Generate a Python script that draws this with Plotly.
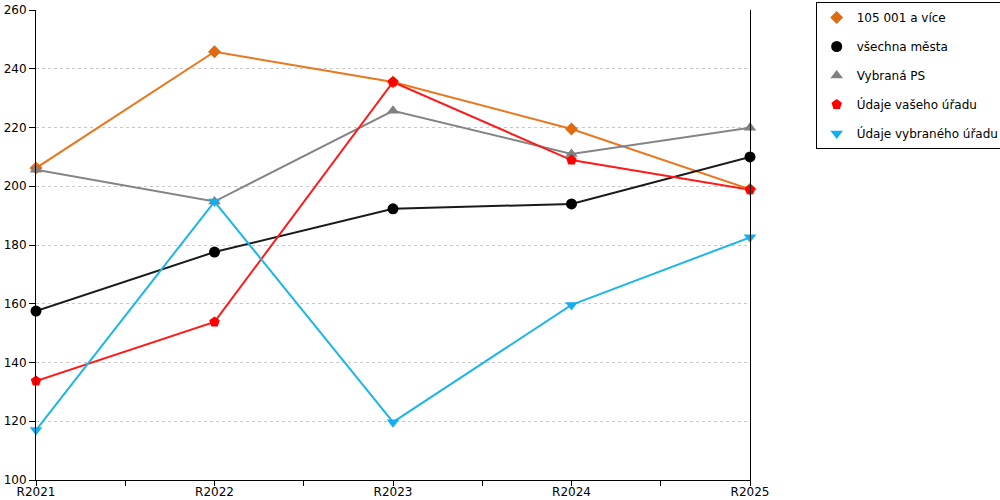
import plotly.graph_objects as go

years = ["R2021", "R2022", "R2023", "R2024", "R2025"]

names = ["105 001 a více", "všechna města", "Vybraná PS", "Údaje vašeho úřadu", "Údaje vybraného úřadu"]
city_105k = [206.2, 245.8, 235.5, 219.5, 199.0]
all_cities = [157.5, 177.6, 192.3, 194.0, 210.0]
selected_ps = [205.6, 194.8, 225.7, 211.0, 219.9]
your_office = [133.7, 153.8, 235.5, 208.9, 198.8]
other_office = [117.0, 194.8, 119.7, 159.6, 182.6]

series = [city_105k, all_cities, selected_ps, your_office, other_office]
colors = ["#E8771E", "#1a1a1a", "#848484", "#FF1A1A", "#1CB5EC"]
markers = ["diamond", "circle", "triangle-up", "pentagon", "triangle-down"]
msizes = [10, 11, 11, 11, 11]
mcolors = ["#E06A10", "#000000", "#808080", "#FF0000", "#10B0F0"]

x_pos = list(range(len(years)))

fig = go.Figure()
# lines first (no legend), then markers carrying the legend entries
for i, vals in enumerate(series):
    fig.add_trace(go.Scatter(
        x=x_pos, y=vals, mode="lines", showlegend=False, hoverinfo="skip",
        line=dict(color=colors[i], width=2), cliponaxis=False,
    ))
for i, (name, vals) in enumerate(zip(names, series)):
    fig.add_trace(go.Scatter(
        x=x_pos, y=vals, mode="markers", name=name,
        legendgroup=f"g{i}",
        marker=dict(symbol=markers[i], size=msizes[i], color=mcolors[i]),
        cliponaxis=False,
    ))

fig.update_layout(
    width=1000, height=500,
    margin=dict(l=36, r=250, t=10, b=20, autoexpand=False),
    plot_bgcolor="white", paper_bgcolor="white",
    font=dict(family="DejaVu Sans", size=12, color="#000"),
    legend=dict(
        x=1.092, y=1.017, xanchor="left", yanchor="top",
        bordercolor="#000", borderwidth=1, bgcolor="white",
        font=dict(size=12), tracegroupgap=10, itemwidth=30,
    ),
    xaxis=dict(
        tickmode="array", tickvals=x_pos, ticktext=years,
        range=[0, 4], showgrid=False, zeroline=False, automargin=False,
        showline=True, linecolor="#000", linewidth=1,
        ticks="outside", ticklen=5, tickcolor="#000", ticklabelstandoff=-4,
        minor=dict(ticks="outside", dtick=0.5, tick0=0, ticklen=5, tickcolor="#000", showgrid=False),
        tickfont=dict(size=12),
    ),
    yaxis=dict(
        range=[100, 260], dtick=20, tick0=100, automargin=False,
        showgrid=True, gridcolor="#c8c8c8", griddash="dot", gridwidth=1,
        zeroline=False, showline=True, linecolor="#000", linewidth=1, mirror=True,
        ticks="outside", ticklen=6, tickcolor="#000",
        tickfont=dict(size=12),
    ),
)

# page body has a default 8px margin; drop it so the figure fills the window
fig.write_html("out.html", config={"displayModeBar": False},
               post_script="document.body.style.margin='0';")
